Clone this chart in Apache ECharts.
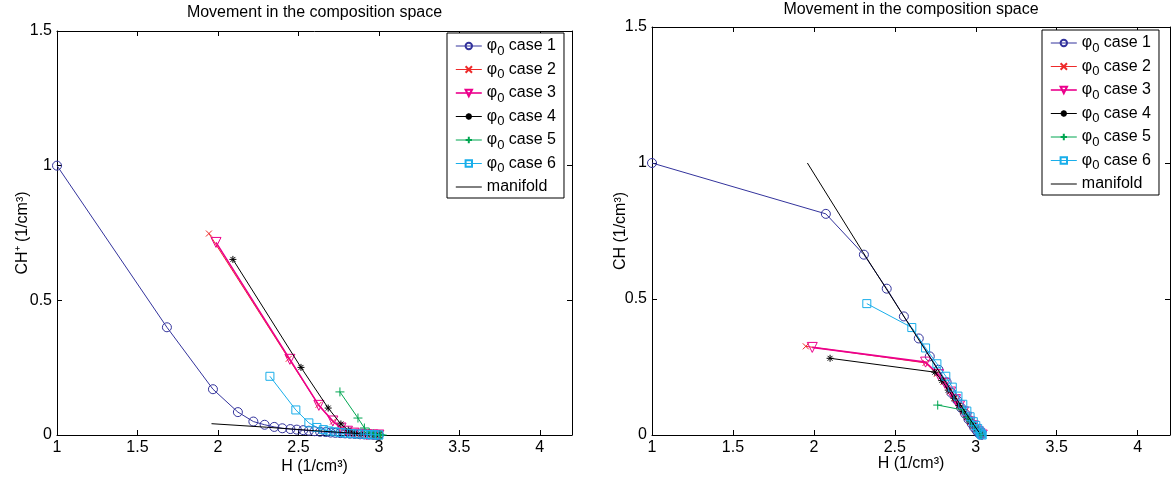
<!DOCTYPE html>
<html><head><meta charset="utf-8">
<script src="https://cdn.jsdelivr.net/npm/echarts@6/dist/echarts.min.js"></script>
<style>html,body{margin:0;padding:0;background:#fff}#c{width:1173px;height:479px}</style>
</head><body><div id="c"></div><script>
// ---------- data ----------
const chartTitle = 'Movement in the composition space';
const xName = 'H (1/cm³)';
const yNameLeft = 'CH⁺ (1/cm³)';
const yNameRight = 'CH (1/cm³)';
const seriesNames = ['φ₀ case 1','φ₀ case 2','φ₀ case 3','φ₀ case 4','φ₀ case 5','φ₀ case 6','manifold'];

// left panel: CH+ vs H
const leftCase1 = [[1,1],[1.683,0.40],[1.969,0.17],[2.124,0.085],[2.22,0.05],[2.29,0.038],[2.35,0.03],[2.40,0.025],[2.45,0.022],[2.49,0.02],[2.53,0.018],[2.565,0.016],[2.6,0.014],[2.635,0.012],[2.67,0.011],[2.70,0.009],[2.73,0.008],[2.76,0.007],[2.79,0.006],[2.82,0.005],[2.85,0.004],[2.88,0.003],[2.91,0.002],[2.94,0.0015],[2.965,0.001],[2.985,0.0005],[3.0,0]];
const leftCase2 = [[1.944,0.748],[2.44,0.283],[2.625,0.112],[2.715,0.05],[2.77,0.024],[2.81,0.012],[2.85,0.006],[2.89,0.002],[2.93,0.001],[2.97,0],[3.0,0]];
const leftCase3 = [[1.988,0.715],[2.447,0.281],[2.627,0.11],[2.714,0.052],[2.765,0.026],[2.805,0.014],[2.845,0.007],[2.885,0.003],[2.925,0.001],[2.965,0],[3.0,0]];
const leftCase4 = [[2.093,0.652],[2.516,0.251],[2.685,0.1],[2.764,0.041],[2.81,0.018],[2.85,0.008],[2.89,0.004],[2.93,0.002],[2.97,0.001],[3.0,0]];
const leftCase5 = [[2.758,0.16],[2.87,0.063],[2.91,0.026],[2.94,0.01],[2.965,0.004],[2.985,0.001],[3.0,0],[3.01,0],[3.02,0]];
const leftCase6 = [[2.323,0.218],[2.484,0.093],[2.565,0.045],[2.615,0.028],[2.655,0.02],[2.69,0.015],[2.725,0.012],[2.76,0.009],[2.795,0.007],[2.83,0.005],[2.865,0.004],[2.9,0.003],[2.93,0.002],[2.955,0.001],[2.975,0.0005],[3.0,0]];
const leftManifold = [[1.96,0.042],[2.3,0.029],[2.6,0.016],[2.88,0.005]];

// right panel: CH vs H
const rightCase1 = [[1,1],[2.074,0.813],[2.309,0.663],[2.45,0.538],[2.556,0.436],[2.648,0.355],[2.716,0.289],[2.77,0.24],[2.82,0.194],[2.85,0.155],[2.885,0.128],[2.91,0.1],[2.935,0.078],[2.955,0.058],[2.975,0.042],[2.99,0.028],[3.005,0.017],[3.015,0.009],[3.025,0.004],[3.03,0.001]];
const rightCase2 = [[1.95,0.326],[2.69,0.265],[2.76,0.225],[2.80,0.195],[2.84,0.16],[2.87,0.135],[2.90,0.108],[2.92,0.088],[2.945,0.066],[2.965,0.048],[2.985,0.033],[3.0,0.02],[3.015,0.011],[3.025,0.005],[3.035,0.001]];
const rightCase3 = [[1.99,0.322],[2.69,0.268],[2.77,0.222],[2.81,0.19],[2.845,0.158],[2.875,0.13],[2.90,0.107],[2.925,0.085],[2.945,0.065],[2.965,0.048],[2.985,0.034],[3.0,0.021],[3.015,0.012],[3.025,0.006],[3.04,0]];
const rightCase4 = [[2.10,0.282],[2.747,0.231],[2.79,0.2],[2.83,0.165],[2.865,0.135],[2.895,0.108],[2.92,0.086],[2.945,0.066],[2.965,0.049],[2.985,0.034],[3.0,0.021],[3.015,0.011],[3.03,0.003]];
const rightCase5 = [[2.765,0.11],[2.92,0.092],[2.95,0.065],[2.97,0.048],[2.99,0.033],[3.005,0.021],[3.02,0.011],[3.03,0.004],[3.035,0]];
const rightCase6 = [[2.327,0.483],[2.605,0.395],[2.69,0.32],[2.76,0.262],[2.815,0.216],[2.855,0.176],[2.89,0.143],[2.92,0.113],[2.945,0.088],[2.965,0.067],[2.985,0.049],[3.0,0.035],[3.012,0.024],[3.022,0.015],[3.03,0.008],[3.036,0.003],[3.04,0]];
const rightManifold = [[1.96,1.0],[2.3,0.675],[2.6,0.395],[2.8,0.208],[2.95,0.07],[3.02,0.01]];

const xMin = 1, xMax = 4.2, xStep = 0.5;
const yMin = 0, yMax = 1.5, yStep = 0.5;

// ---------- styles ----------
const P = {
  circle: 'path://M10,5A5,5 0 1 1 0,5A5,5 0 1 1 10,5Z',
  cross: 'path://M0,0L10,10M10,0L0,10',
  tri: 'path://M0,0L10,0L5,8.66Z',
  star: 'path://M5,0L5,10M0,5L10,5M1.5,1.5L8.5,8.5M8.5,1.5L1.5,8.5',
  plus: 'path://M5,0L5,10M0,5L10,5',
  square: 'path://M0,0L10,0L10,10L0,10Z'
};
const styles = [
  {color:'#33339c', symbol:P.circle, size:9, lw:1},
  {color:'#ee2a2a', symbol:P.cross, size:6, lw:1},
  {color:'#ec008c', symbol:P.tri, size:10, lw:1.6},
  {color:'#000000', symbol:P.star, size:7, lw:1},
  {color:'#00a651', symbol:P.plus, size:9, lw:1},
  {color:'#19aeea', symbol:P.square, size:8, lw:1},
  {color:'#000000', symbol:null, size:0, lw:1}
];
const FONT = 'Liberation Sans, Arial, Helvetica, sans-serif';
const FS = 16;

const leftData = [leftCase1,leftCase2,leftCase3,leftCase4,leftCase5,leftCase6,leftManifold];
const rightData = [rightCase1,rightCase2,rightCase3,rightCase4,rightCase5,rightCase6,rightManifold];

function mkSeries(dataList, gi) {
  return dataList.map((d, i) => {
    const s = styles[i];
    const noSym = !s.symbol;
    return {
      name: seriesNames[i], type: 'line', xAxisIndex: gi*2, yAxisIndex: gi*2,
      data: d, symbol: noSym ? 'circle' : s.symbol, symbolSize: s.size, showSymbol: !noSym,
      lineStyle: {color: s.color, width: s.lw},
      itemStyle: {color: 'rgba(0,0,0,0)', borderColor: noSym ? 'rgba(0,0,0,0)' : s.color, borderWidth: 1},
      emphasis: {disabled: true}, animation: false, z: 2 + i
    };
  });
}

const axisCommon = {
  axisLine: {show: true, onZero: false, lineStyle: {color: '#000', width: 1}},
  axisTick: {show: true, inside: true, length: 5, lineStyle: {color: '#000'}},
  splitLine: {show: false},
  nameMoveOverlap: false
};
function xAxes(gi, nameGapBottom, titleGap) {
  return [
    Object.assign({}, axisCommon, {type:'value', gridIndex: gi, position:'bottom', min:xMin, max:xMax, interval:xStep,
      axisLabel: {color:'#000', fontSize:FS, fontFamily:FONT, margin:5, showMaxLabel:false},
      name: xName, nameLocation:'middle', nameGap: nameGapBottom, nameTextStyle:{color:'#000', fontSize:FS, fontFamily:FONT}}),
    Object.assign({}, axisCommon, {type:'value', gridIndex: gi, position:'top', min:xMin, max:xMax, interval:xStep,
      axisLabel: {show:false},
      name: chartTitle, nameLocation:'middle', nameGap: titleGap, nameTextStyle:{color:'#000', fontSize:FS, fontFamily:FONT}})
  ];
}
function yAxes(gi, yName, gap) {
  return [
    Object.assign({}, axisCommon, {type:'value', gridIndex: gi, position:'left', min:yMin, max:yMax, interval:yStep,
      axisLabel: {color:'#000', fontSize:FS, fontFamily:FONT, margin:5},
      name: yName, nameLocation:'middle', nameGap: gap, nameRotate: 90, nameTextStyle:{color:'#000', fontSize:FS, fontFamily:FONT}}),
    Object.assign({}, axisCommon, {type:'value', gridIndex: gi, position:'right', min:yMin, max:yMax, interval:yStep,
      axisLabel: {show:false}})
  ];
}
function legend(left, top) {
  return {
    left: left, top: top, orient: 'vertical',
    data: seriesNames.map((n, i) => ({name: n, lineStyle: {width: styles[i].lw}})),
    backgroundColor: '#fff', borderColor: '#000', borderWidth: 1,
    padding: [5, 8, 3, 8], itemGap: 4, itemWidth: 26, itemHeight: 8,
    selectedMode: false,
    lineStyle: {width: 1},
    textStyle: {color:'#000', fontSize:FS, fontFamily:FONT,
      rich: {
        p: {fontSize:FS, fontFamily:FONT, color:'#000'},
        s: {fontSize:13, fontFamily:FONT, color:'#000', padding:[10,0,0,0]},
        t: {fontSize:FS, fontFamily:FONT, color:'#000'}
      }},
    formatter: n => n.indexOf('φ₀') === 0 ? '{p|φ}{s|0}{t|' + n.slice(2) + '}' : '{t|' + n + '}'
  };
}

const chart = echarts.init(document.getElementById('c'), null, {renderer: 'canvas'});
chart.setOption({
  backgroundColor: '#fff',
  animation: false,
  grid: [
    {left: 57, top: 31, width: 515, height: 404, containLabel: false, outerBoundsMode: 'none'},
    {left: 652, top: 27, width: 518, height: 408, containLabel: false, outerBoundsMode: 'none'}
  ],
  xAxis: [...xAxes(0, 24, 10), ...xAxes(1, 21, 9)],
  yAxis: [...yAxes(0, yNameLeft, 26), ...yAxes(1, yNameRight, 23)],
  legend: [legend(447, 33), legend(1042, 30)],
  series: [...mkSeries(leftData, 0), ...mkSeries(rightData, 1)]
});
</script></body></html>
